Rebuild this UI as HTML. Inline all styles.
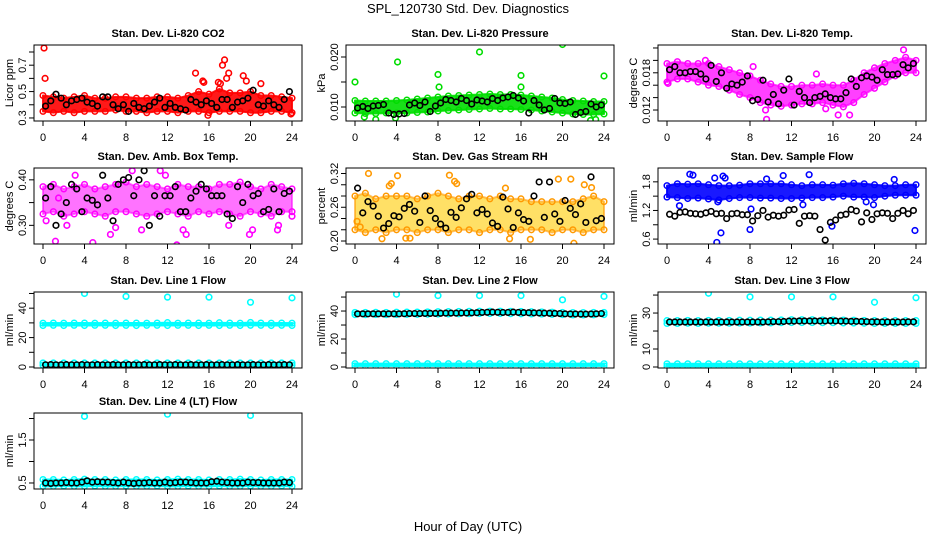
<!DOCTYPE html>
<html><head><meta charset="utf-8"><style>
html,body{margin:0;padding:0;background:#fff;}
svg{display:block;font-family:"Liberation Sans",Arial,sans-serif;}
</style></head><body>
<svg id="chart" width="936" height="540" viewBox="0 0 936 540" xmlns="http://www.w3.org/2000/svg">
<rect width="936" height="540" fill="#fff"/>
<text x="468" y="13" text-anchor="middle" font-size="13">SPL_120730  Std. Dev. Diagnostics</text>
<text x="468" y="531" text-anchor="middle" font-size="13">Hour of Day (UTC)</text>
<g id="panels"></g>
</svg>
<script>
// shared x data
const hourTicks = [0,4,8,12,16,20,24];
const bandHours = [0,1,2,3,4,5,6,7,8,9,10,11,12,13,14,15,16,17,18,19,20,21,22,23,24];

// Panel 1: CO2
const co2Lo = [0.35,0.34,0.35,0.34,0.35,0.35,0.35,0.36,0.35,0.35,0.34,0.35,0.35,0.34,0.35,0.35,0.34,0.35,0.35,0.35,0.34,0.34,0.35,0.35,0.34];
const co2Hi = [0.47,0.46,0.45,0.46,0.47,0.45,0.45,0.46,0.46,0.45,0.45,0.46,0.46,0.45,0.47,0.50,0.48,0.52,0.49,0.49,0.50,0.47,0.47,0.46,0.45];
const co2OutX = [0.1,0.2,14.7,15.4,15.5,16.9,17.1,17.3,17.5,17.7,17.9,19.3,19.6,21,15.9,23.9];
const co2OutY = [0.83,0.6,0.64,0.58,0.57,0.57,0.56,0.70,0.74,0.60,0.64,0.62,0.58,0.56,0.32,0.33];
const co2Black = [0.39,0.43,0.48,0.45,0.40,0.43,0.44,0.45,0.42,0.41,0.39,0.46,0.46,0.40,0.37,0.40,0.35,0.41,0.38,0.37,0.39,0.42,0.45,0.38,0.41,0.38,0.37,0.36,0.44,0.42,0.40,0.43,0.41,0.38,0.44,0.44,0.38,0.42,0.43,0.45,0.51,0.40,0.39,0.43,0.40,0.38,0.44,0.50];

// Panel 2: Pressure
const presLo = [0.0088,0.0087,0.0087,0.0088,0.0088,0.0088,0.0089,0.0090,0.0092,0.0093,0.0094,0.0095,0.0096,0.0097,0.0096,0.0096,0.0095,0.0094,0.0092,0.0090,0.0088,0.0086,0.0085,0.0085,0.0086];
const presHi = [0.0113,0.0112,0.0112,0.0112,0.0113,0.0114,0.0116,0.0118,0.0120,0.0122,0.0123,0.0124,0.0125,0.0126,0.0125,0.0125,0.0124,0.0122,0.0120,0.0118,0.0115,0.0113,0.0112,0.0111,0.0111];
const presOutX = [0,4.1,8,8.1,12,16,16,20,24,3.9,22.7,23.2,2,0.9];
const presOutY = [0.0150,0.0190,0.0165,0.0140,0.0210,0.0163,0.0140,0.0225,0.0162,0.0078,0.0073,0.0075,0.0075,0.0080];
const presBlack = [0.0098,0.0101,0.0097,0.0102,0.0103,0.0105,0.0088,0.0085,0.0086,0.0087,0.0104,0.0108,0.0103,0.0110,0.0091,0.0102,0.0108,0.0115,0.0113,0.0110,0.0117,0.0113,0.0106,0.0114,0.0112,0.0110,0.0117,0.0113,0.0118,0.0120,0.0123,0.0118,0.0112,0.0088,0.0113,0.0104,0.0094,0.0097,0.0117,0.0108,0.0107,0.0110,0.0085,0.0089,0.0091,0.0106,0.0100,0.0104];

// Panel 3: Li-820 Temp
const tempLo = [0.0165,0.0170,0.0170,0.0165,0.0160,0.0158,0.0152,0.0145,0.0140,0.0132,0.0128,0.0126,0.0128,0.0130,0.0130,0.0132,0.0128,0.0125,0.0132,0.0145,0.0155,0.0165,0.0175,0.0180,0.0180];
const tempHi = [0.0195,0.0198,0.0195,0.0195,0.0195,0.0190,0.0185,0.0180,0.0175,0.0168,0.0162,0.0158,0.0158,0.0160,0.0160,0.0162,0.0160,0.0160,0.0168,0.0180,0.0188,0.0195,0.0200,0.0205,0.0200];
const tempOutX = [0.1,3.7,9.5,9.6,14.4,15.3,16.5,17.6,8.3,22.8];
const tempOutY = [0.0163,0.0200,0.0120,0.0105,0.0178,0.0122,0.0112,0.0112,0.0190,0.0217];
const tempBlack = [0.0185,0.0190,0.0180,0.0180,0.0182,0.0182,0.0178,0.0170,0.0192,0.0166,0.0180,0.0155,0.0162,0.0160,0.0165,0.0175,0.0135,0.0137,0.0168,0.0133,0.0145,0.0130,0.0152,0.0170,0.0128,0.0150,0.0140,0.0132,0.0140,0.0142,0.0146,0.0140,0.0138,0.0138,0.0148,0.0170,0.0158,0.0172,0.0175,0.0173,0.0168,0.0185,0.0177,0.0177,0.0178,0.0193,0.0188,0.0195];

// Panel 4: Amb. Box Temp
const ambLo = [0.325,0.33,0.32,0.325,0.33,0.325,0.32,0.33,0.33,0.325,0.32,0.325,0.33,0.325,0.32,0.33,0.325,0.33,0.325,0.32,0.33,0.325,0.32,0.33,0.33];
const ambHi = [0.385,0.39,0.38,0.385,0.39,0.38,0.385,0.39,0.395,0.385,0.39,0.385,0.38,0.39,0.385,0.385,0.38,0.39,0.39,0.395,0.385,0.38,0.39,0.385,0.38];
const ambOutX = [0.3,1.2,2.3,4.8,6.5,7.0,8.6,9.5,11.3,12.9,13.5,13.8,17.9,19.9,20.2,22.6,3.1,11.8,1.5,22.7,24];
const ambOutY = [0.31,0.265,0.30,0.262,0.28,0.295,0.42,0.29,0.42,0.257,0.29,0.28,0.30,0.28,0.29,0.29,0.41,0.41,0.36,0.30,0.32];
const ambBlack = [0.36,0.385,0.30,0.325,0.35,0.39,0.38,0.33,0.36,0.355,0.345,0.41,0.36,0.31,0.39,0.40,0.405,0.365,0.40,0.42,0.30,0.365,0.32,0.365,0.365,0.385,0.33,0.33,0.36,0.375,0.39,0.38,0.365,0.365,0.365,0.325,0.315,0.385,0.35,0.39,0.365,0.37,0.33,0.335,0.38,0.33,0.37,0.375];

// Panel 5: Gas Stream RH
const rhLo = [0.22,0.215,0.22,0.215,0.22,0.22,0.215,0.22,0.22,0.215,0.22,0.22,0.215,0.22,0.22,0.215,0.22,0.22,0.22,0.215,0.22,0.22,0.215,0.22,0.22];
const rhHi = [0.28,0.285,0.275,0.28,0.28,0.28,0.275,0.28,0.285,0.28,0.275,0.28,0.28,0.275,0.28,0.275,0.275,0.27,0.27,0.27,0.27,0.27,0.275,0.28,0.27];
const rhOutX = [0.5,1.3,2.6,3.3,3.5,4.1,4.9,5.3,9.1,9.6,9.8,14.5,16.9,19.6,20.8,21.1,22.1,22.8,0.2,14.9];
const rhOutY = [0.225,0.32,0.204,0.298,0.302,0.316,0.205,0.205,0.317,0.306,0.302,0.294,0.203,0.31,0.31,0.196,0.3,0.295,0.235,0.204];
const rhBlack = [0.294,0.25,0.27,0.262,0.244,0.223,0.231,0.245,0.243,0.258,0.265,0.253,0.233,0.28,0.254,0.24,0.23,0.223,0.251,0.242,0.259,0.275,0.283,0.25,0.256,0.248,0.232,0.226,0.278,0.257,0.224,0.25,0.238,0.235,0.28,0.305,0.242,0.305,0.248,0.235,0.272,0.258,0.247,0.266,0.233,0.314,0.236,0.24];

// Panel 6: Sample Flow
const sfLo = [1.48,1.47,1.45,1.46,1.44,1.42,1.45,1.47,1.47,1.46,1.46,1.45,1.45,1.46,1.47,1.47,1.48,1.50,1.48,1.48,1.47,1.50,1.52,1.52,1.52];
const sfHi = [1.72,1.76,1.75,1.76,1.74,1.72,1.72,1.73,1.76,1.76,1.76,1.76,1.74,1.72,1.74,1.74,1.73,1.76,1.77,1.76,1.74,1.72,1.72,1.74,1.74];
const sfOutX = [2.2,2.5,5.4,5.6,11.2,13.7,21.9,4.8,5.2,8,8.1,1.2,13.1,15.9,19.2,19.9,23.9,9.6,4.9,4.6];
const sfOutY = [1.96,1.94,1.92,1.88,1.93,1.95,1.85,0.53,0.73,0.8,1.23,1.3,1.32,0.87,1.38,1.32,0.78,1.86,1.38,1.88];
const sfBlack = [1.12,1.08,1.16,1.17,1.14,1.13,1.12,1.15,1.18,1.13,1.14,1.03,1.13,1.14,1.11,1.11,0.98,1.09,1.2,1.06,1.1,1.08,1.1,1.21,1.22,0.93,1.08,1.09,1.08,0.8,0.58,0.95,1.0,1.1,1.12,1.22,1.19,0.96,1.15,1.01,1.13,1.15,1.14,1.03,1.14,1.2,1.13,1.2];

// Panel 7: Line 1 Flow
const l1Lo = [28.2,28.3,28.2,28.3,28.2,28.3,28.3,28.2,28.3,28.2,28.3,28.3,28.2,28.3,28.3,28.2,28.3,28.2,28.3,28.2,28.3,28.3,28.2,28.3,28.2];
const l1Hi = [29.8,29.9,29.8,29.9,29.9,29.8,29.9,29.8,29.9,29.9,29.8,29.9,30.2,29.8,29.9,29.9,29.8,30.1,29.9,29.8,30.3,29.9,29.8,29.9,29.8];
const l1LowLo = [1.2,1.2,1.2,1.2,1.2,1.2,1.2,1.2,1.2,1.2,1.2,1.2,1.2,1.2,1.2,1.2,1.2,1.2,1.2,1.2,1.2,1.2,1.2,1.2,1.2];
const l1LowHi = [2.8,2.8,2.8,2.8,2.8,2.8,2.8,2.8,2.8,2.8,2.8,2.8,2.8,2.8,2.8,2.8,2.8,2.8,2.8,2.8,2.8,2.8,2.8,2.8,2.8];
const l1OutX = [4,8,12,16,20,24];
const l1OutY = [50,48,47.5,47.5,44,47];
const l1Black = [1.5,1.6,1.5,1.5,1.6,1.5,1.5,1.6,1.5,1.5,1.6,1.5,1.5,1.6,1.5,1.5,1.6,1.5,1.5,1.6,1.5,1.5,1.6,1.5,1.5,1.6,1.5,1.5,1.6,1.5,1.5,1.6,1.5,1.5,1.6,1.5,1.5,1.6,1.5,1.5,1.6,1.5,1.5,1.6,1.5,1.5,1.6,1.5];

// Panel 8: Line 2 Flow
const l2Lo = [37.4,37.4,37.5,37.4,37.5,37.6,37.6,37.7,37.8,37.9,38.0,38.1,38.2,38.2,38.2,38.1,38.0,37.9,37.8,37.6,37.4,37.2,37.2,37.3,37.4];
const l2Hi = [39.0,39.0,39.1,39.0,39.2,39.3,39.3,39.4,39.5,39.6,39.7,39.8,39.9,39.9,39.9,39.8,39.7,39.5,39.4,39.2,39.0,38.9,38.9,39.0,39.0];
const l2LowLo = [0.8,0.8,0.8,0.8,0.8,0.8,0.8,0.8,0.8,0.8,0.8,0.8,0.8,0.8,0.8,0.8,0.8,0.8,0.8,0.8,0.8,0.8,0.8,0.8,0.8];
const l2LowHi = [2.4,2.4,2.4,2.4,2.4,2.4,2.4,2.4,2.4,2.4,2.4,2.4,2.4,2.4,2.4,2.4,2.4,2.4,2.4,2.4,2.4,2.4,2.4,2.4,2.4];
const l2OutX = [4,8,12,16,20,24];
const l2OutY = [52,51,51,51,48,50.5];
const l2Black = [38,38,38,38,38,38,38,38,38,38.1,38.2,38.2,38.2,38.3,38.3,38.3,38.4,38.5,38.5,38.5,38.6,38.6,38.7,38.8,39.0,39.1,39.2,39.1,39.0,39.0,39.2,39.0,38.9,38.8,38.7,38.6,38.5,38.4,38.3,38.2,38.0,37.9,37.9,37.8,37.8,37.9,38.0,38.2];

// Panel 9: Line 3 Flow
const l3Lo = [24.2,24.2,24.3,24.2,24.3,24.3,24.3,24.4,24.4,24.5,24.5,24.6,24.7,24.7,24.7,24.6,24.6,24.5,24.4,24.3,24.2,24.2,24.2,24.2,24.2];
const l3Hi = [25.8,25.8,25.9,25.8,25.9,25.9,25.9,26.0,26.0,26.1,26.1,26.2,26.3,26.3,26.3,26.2,26.2,26.1,26.0,25.9,25.8,25.8,25.8,25.8,25.8];
const l3LowLo = [0.4,0.4,0.4,0.4,0.4,0.4,0.4,0.4,0.4,0.4,0.4,0.4,0.4,0.4,0.4,0.4,0.4,0.4,0.4,0.4,0.4,0.4,0.4,0.4,0.4];
const l3LowHi = [1.8,1.8,1.8,1.8,1.8,1.8,1.8,1.8,1.8,1.8,1.8,1.8,1.8,1.8,1.8,1.8,1.8,1.8,1.8,1.8,1.8,1.8,1.8,1.8,1.8];
const l3OutX = [4,8,12,16,20,24];
const l3OutY = [41,39,39,39,36,38.5];
const l3Black = [25,25,25,25,25,25,25,25,25,25,25,25,25,25,25,25,25,25,25,25.1,25.2,25.2,25.3,25.5,25.5,25.6,25.6,25.6,25.6,25.6,25.6,25.7,25.6,25.5,25.5,25.4,25.4,25.3,25.2,25.1,25.1,25.0,25.0,25.0,25.0,25.0,25.1,25.1];

// Panel 10: Line 4 (LT) Flow
const l4Lo = [0.42,0.42,0.43,0.42,0.42,0.43,0.42,0.42,0.43,0.42,0.42,0.43,0.42,0.42,0.43,0.42,0.42,0.43,0.42,0.42,0.43,0.42,0.42,0.43,0.42];
const l4Hi = [0.58,0.58,0.57,0.58,0.59,0.58,0.58,0.57,0.58,0.58,0.58,0.57,0.58,0.59,0.58,0.58,0.57,0.58,0.58,0.59,0.58,0.57,0.58,0.58,0.58];
const l4OutX = [4,12,20];
const l4OutY = [2.05,2.1,2.07];
const l4Black = [0.5,0.49,0.5,0.5,0.51,0.5,0.5,0.52,0.55,0.52,0.53,0.52,0.52,0.51,0.5,0.52,0.5,0.49,0.5,0.5,0.51,0.5,0.5,0.52,0.5,0.51,0.52,0.52,0.51,0.5,0.5,0.5,0.53,0.54,0.52,0.51,0.5,0.5,0.5,0.52,0.51,0.51,0.5,0.5,0.5,0.5,0.52,0.51];

const panels = [
 {name:'co2',title:'Stan. Dev. Li-820 CO2',ylab:'Licor ppm',r:0,c:0,ylim:[0.277,0.853],ticks:[0.3,0.4,0.5,0.6,0.7,0.8],labels:['0.3','0.5','0.7'],col:'#ff0000',op:0.9,bands:[[co2Lo,co2Hi]],outX:co2OutX,outY:co2OutY,black:co2Black},
 {name:'pressure',title:'Stan. Dev. Li-820 Pressure',ylab:'kPa',r:0,c:1,ylim:[0.0072,0.0224],ticks:[0.010,0.015,0.020],labels:['0.010','0.020'],col:'#00dd00',op:0.9,bands:[[presLo,presHi]],outX:presOutX,outY:presOutY,black:presBlack},
 {name:'li820-temp',title:'Stan. Dev. Li-820 Temp.',ylab:'degrees C',r:0,c:2,ylim:[0.01023,0.02248],ticks:[0.012,0.014,0.016,0.018,0.020,0.022],labels:['0.012','0.018'],col:'#ff00ff',op:0.75,bands:[[tempLo,tempHi]],outX:tempOutX,outY:tempOutY,black:tempBlack},
 {name:'amb-box-temp',title:'Stan. Dev. Amb. Box Temp.',ylab:'degrees C',r:1,c:0,ylim:[0.259,0.426],ticks:[0.30,0.35,0.40],labels:['0.30','0.40'],col:'#ff00ff',op:0.55,bands:[[ambLo,ambHi]],outX:ambOutX,outY:ambOutY,black:ambBlack},
 {name:'gas-stream-rh',title:'Stan. Dev. Gas Stream RH',ylab:'percent',r:1,c:1,ylim:[0.1947,0.3298],ticks:[0.20,0.22,0.24,0.26,0.28,0.30,0.32],labels:['0.20','0.26','0.32'],col:'#ff9900',fill2:'#ffcc00',op:0.6,bands:[[rhLo,rhHi]],outX:rhOutX,outY:rhOutY,black:rhBlack},
 {name:'sample-flow',title:'Stan. Dev. Sample Flow',ylab:'ml/min',r:1,c:2,ylim:[0.497,2.09],ticks:[0.6,0.9,1.2,1.5,1.8],labels:['0.6','1.2','1.8'],col:'#0000ff',op:0.9,bands:[[sfLo,sfHi]],outX:sfOutX,outY:sfOutY,black:sfBlack},
 {name:'line1-flow',title:'Stan. Dev. Line 1 Flow',ylab:'ml/min',r:2,c:0,ylim:[-0.68,51.0],ticks:[0,10,20,30,40,50],labels:['0','20','40'],col:'#00ffff',op:1,bands:[[l1Lo,l1Hi],[l1LowLo,l1LowHi]],outX:l1OutX,outY:l1OutY,black:l1Black},
 {name:'line2-flow',title:'Stan. Dev. Line 2 Flow',ylab:'ml/min',r:2,c:1,ylim:[-0.71,53.6],ticks:[0,10,20,30,40,50],labels:['0','20','40'],col:'#00ffff',op:1,bands:[[l2Lo,l2Hi],[l2LowLo,l2LowHi]],outX:l2OutX,outY:l2OutY,black:l2Black},
 {name:'line3-flow',title:'Stan. Dev. Line 3 Flow',ylab:'ml/min',r:2,c:2,ylim:[-0.56,41.7],ticks:[0,10,20,30,40],labels:['0','10','30'],col:'#00ffff',op:1,bands:[[l3Lo,l3Hi],[l3LowLo,l3LowHi]],outX:l3OutX,outY:l3OutY,black:l3Black},
 {name:'line4-flow',title:'Stan. Dev. Line 4 (LT) Flow',ylab:'ml/min',r:3,c:0,ylim:[0.36,2.128],ticks:[0.5,1.0,1.5,2.0],labels:['0.5','1.5'],col:'#00ffff',op:1,bands:[[l4Lo,l4Hi]],outX:l4OutX,outY:l4OutY,black:l4Black}
];

const NS='http://www.w3.org/2000/svg';
const root=document.getElementById('panels');
function mk(tag,attrs,parent){const e=document.createElementNS(NS,tag);for(const k in attrs)e.setAttribute(k,attrs[k]);parent.appendChild(e);return e;}

panels.forEach(p=>{
  const bx=34+312*p.c, bw=268, by=45+123*p.r - (p.r===3?1:0) + (p.r===2?1:0), bh=76;
  const xs=h=>43+312*p.c+h*(249/24);
  const ys=v=>by+bh-(v-p.ylim[0])/(p.ylim[1]-p.ylim[0])*bh;
  const g=mk('g',{},root);
  
  
  const t=mk('text',{x:bx+bw/2,y:by-8,'text-anchor':'middle','font-size':'11','font-weight':'bold'},g);
  t.textContent=p.title;
  
  
  const yl=mk('text',{x:0,y:0,'text-anchor':'middle','font-size':'11',transform:`translate(${bx-21},${by+bh/2}) rotate(-90)`},g);
  yl.textContent=p.ylab;
  
  
  const clip=mk('clipPath',{id:'clip'+p.name},g);
  mk('rect',{x:bx,y:by,width:bw,height:bh},clip);
  const plot=mk('g',{'clip-path':`url(#clip${p.name})`},g);
  
  
  p.bands.forEach(([lo,hi])=>{
    let pts=bandHours.map((h,i)=>xs(h)+','+ys(hi[i]));
    pts=pts.concat(bandHours.map((h,i)=>xs(h)+','+ys(lo[i])).reverse());
    const poly=mk('polygon',{points:pts.join(' '),fill:p.fill2||p.col,'fill-opacity':p.op,stroke:p.col,'stroke-opacity':p.op,'stroke-width':'2','stroke-linejoin':'round'},plot);
    
    
    bandHours.forEach((h,i)=>{
      [lo[i],hi[i]].forEach(v=>{
        const c=mk('circle',{cx:xs(h),cy:ys(v),r:2.8,fill:'none',stroke:p.col,'stroke-width':1.5},plot);
        
        
      });
    });
  });
  p.outX.forEach((h,i)=>{
    const c=mk('circle',{cx:xs(h),cy:ys(p.outY[i]),r:2.8,fill:'none',stroke:p.col,'stroke-width':1.6},plot);
    
    
  });
  p.black.forEach((v,i)=>{
    const c=mk('circle',{cx:xs((i+0.5)/2),cy:ys(v),r:2.8,fill:'none',stroke:'#000','stroke-width':1.6},plot);
    
    
  });
  const frame=mk('rect',{x:bx,y:by,width:bw,height:bh,fill:'none',stroke:'#000','stroke-width':1},g);
  
  
  hourTicks.forEach(h=>{
    mk('line',{x1:xs(h),x2:xs(h),y1:by+bh,y2:by+bh+5,stroke:'#000'},g);
    const tl=mk('text',{x:xs(h),y:by+bh+20,'text-anchor':'middle','font-size':'11'},g);
    tl.textContent=String(h);
    
    
  });
  p.ticks.forEach(v=>{
    mk('line',{x1:bx-5,x2:bx,y1:ys(v),y2:ys(v),stroke:'#000'},g);
  });
  p.labels.forEach(s=>{
    const v=parseFloat(s);
    const tl=mk('text',{x:0,y:0,'text-anchor':'middle','font-size':'11',transform:`translate(${bx-8},${ys(v)}) rotate(-90)`},g);
    tl.textContent=s;
    
    
  });
});
</script>
</body></html>
